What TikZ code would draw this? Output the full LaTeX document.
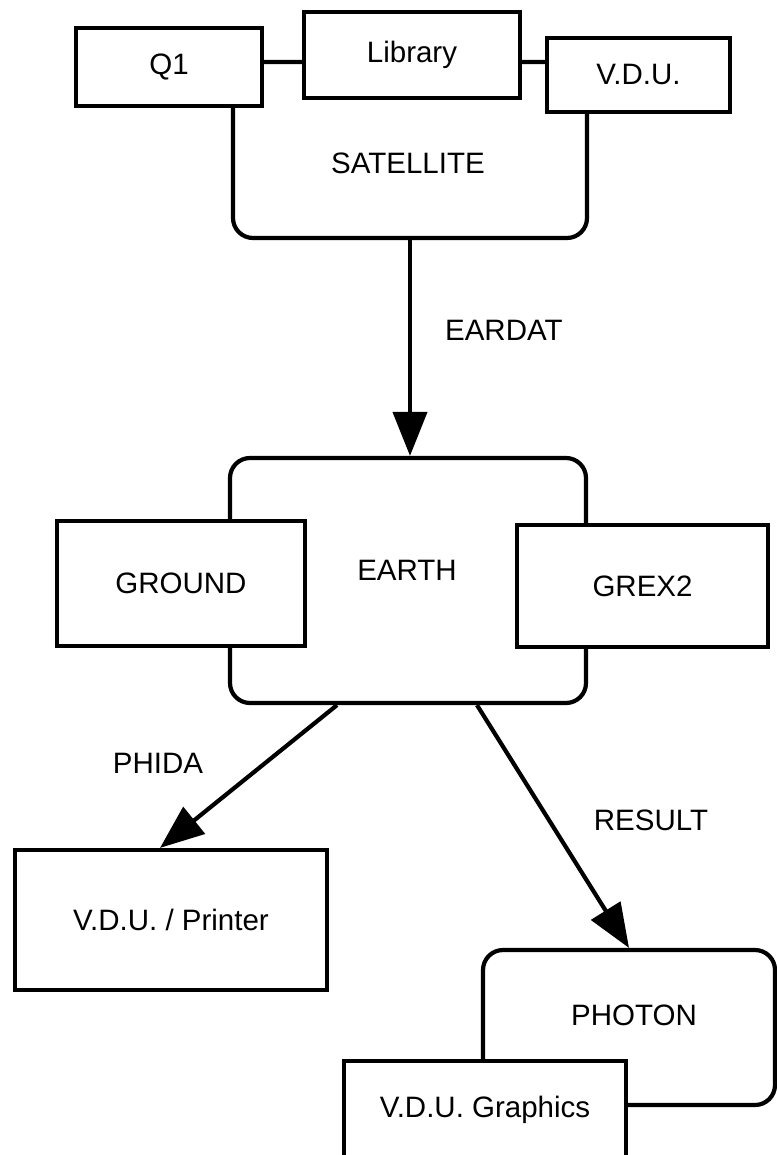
\documentclass[tikz,border=0pt]{standalone}
\usepackage{fontspec}
\setmainfont{Liberation Sans}
\usetikzlibrary{arrows.meta,calc}
\begin{document}
\begin{tikzpicture}[x=1pt,y=-1pt,
  every node/.style={font=\fontsize{29.5}{32}\selectfont, inner sep=0pt},
  box/.style={draw, line width=4.2pt, fill=white, rectangle},
  rbox/.style={draw, line width=4.2pt, rounded corners=20pt, rectangle},
  lbl/.style={},
  arr/.style={line width=4.2pt, -{Triangle[length=44pt,width=34pt]}}
]
\useasboundingbox (0,0) rectangle (776,1155);

% SATELLITE group
\node[rbox, minimum width=354pt, minimum height=176pt] (sat) at (410,150) {};
\node[lbl] (satl) at (408,163) {SATELLITE};
\node[box, minimum width=186pt, minimum height=78pt] (q1) at (169,67) {Q1};
\node[box, minimum width=216pt, minimum height=86pt] (lib) at (412,55) {Library};
\node[box, minimum width=183pt, minimum height=74pt] (vdu) at (638.5,75) {V.D.U.};

% EARTH group
\node[rbox, minimum width=356pt, minimum height=245pt] (earth) at (408,580.5) {};
\node[lbl] (earthl) at (407,570) {EARTH};
\node[box, minimum width=248pt, minimum height=125pt] (ground) at (181,583.5) {GROUND};
\node[box, minimum width=251pt, minimum height=122pt] (grex) at (642.5,586) {GREX2};

% outputs
\node[box, minimum width=312pt, minimum height=140pt] (vp) at (171,920) {V.D.U. / Printer};
\node[rbox, minimum width=292pt, minimum height=155pt] (photon) at (629,1027.5) {};
\node[lbl] (photonl) at (634,1015) {PHOTON};
\node[box, minimum width=282pt, minimum height=97pt] (vg) at (485,1109.5) {V.D.U. Graphics};

% connectors
\draw[arr] (sat.south) -- (sat.south |- earth.north) node[pos=0.42, right=33pt] (eardat) {EARDAT};
\draw[arr] ([xshift=-71pt]earth.south) -- ([xshift=-11pt]vp.north);
\draw[arr] ([xshift=69pt]earth.south) -- (photon.north);

\node[lbl] (phida) at (158,763) {PHIDA};
\node[lbl] (result) at (651,820) {RESULT};
\end{tikzpicture}
\end{document}
